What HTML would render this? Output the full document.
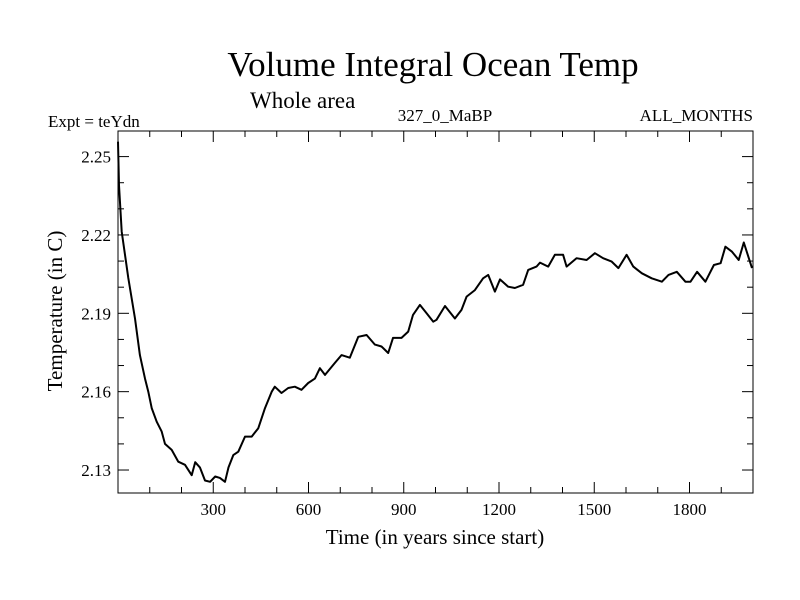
<!DOCTYPE html>
<html><head><meta charset="utf-8"><style>
body{margin:0;background:#fff}
svg{display:block;font-family:"Liberation Serif",serif}
</style></head><body>
<svg id="chart" width="800" height="600">
<text x="433" y="76" font-size="35" text-anchor="middle">Volume Integral Ocean Temp</text>
<text x="250" y="108" font-size="23">Whole area</text>
<text x="48" y="127" font-size="17">Expt = teYdn</text>
<text x="445" y="121" font-size="17" text-anchor="middle">327_0_MaBP</text>
<text x="753" y="121" font-size="17" text-anchor="end">ALL_MONTHS</text>
<text x="435" y="544" font-size="21" text-anchor="middle">Time (in years since start)</text>
<text transform="translate(62,311) rotate(-90)" font-size="21" text-anchor="middle">Temperature (in C)</text>
<g id="axes"></g>
<g id="plot"></g>
</svg>
<script>
const years=[0,3,11.5,32.5,53.5,69,85,95.5,106,122,137.5,148,169,190,211,232,243,258,274,290,306,321,337,348,363,379,400,421,442,463,484,494,515,536,557,578,599,620,636,652,683,704,730,757,783,809,830,851,866,893,914,929,951,972,993,1003,1030,1061,1082,1098,1124,1150,1166,1187,1203,1229,1250,1276,1292,1318,1329,1355,1376,1402,1413,1444,1476,1502,1528,1555,1576,1602,1623,1650,1681,1713,1734,1760,1787,1803,1824,1850,1877,1898,1913,1934,1955,1971,1997];
const temps=[2.2557,2.239,2.2213,2.2035,2.188,2.174,2.165,2.160,2.1537,2.1485,2.1447,2.140,2.1377,2.1332,2.132,2.128,2.133,2.131,2.126,2.1255,2.1275,2.127,2.1255,2.131,2.1357,2.137,2.1428,2.1428,2.146,2.1537,2.160,2.1619,2.1595,2.1614,2.1619,2.1607,2.1633,2.165,2.169,2.1664,2.171,2.174,2.173,2.181,2.1817,2.178,2.1773,2.1748,2.1806,2.1806,2.183,2.1894,2.1932,2.190,2.1868,2.1875,2.1928,2.188,2.1913,2.1964,2.1989,2.2034,2.2047,2.1983,2.203,2.2002,2.1997,2.2009,2.2066,2.2079,2.2094,2.2079,2.2124,2.2124,2.2079,2.2111,2.2104,2.213,2.2111,2.2098,2.2073,2.2124,2.2079,2.2053,2.2034,2.2021,2.2047,2.2059,2.2021,2.2021,2.2059,2.2021,2.2085,2.2092,2.2155,2.2136,2.2104,2.2171,2.2073];
const xTicks=[300,600,900,1200,1500,1800];
const yTicks=[2.13,2.16,2.19,2.22,2.25];
const L=118,R=753,T=131,B=493;
const X0=0,X1=2000,Y0=2.1212,Y1=2.2598;
const sx=v=>L+(v-X0)/(X1-X0)*(R-L);
const sy=v=>B-(v-Y0)/(Y1-Y0)*(B-T);
const NS='http://www.w3.org/2000/svg';
const axes=document.getElementById('axes'),plot=document.getElementById('plot');
function mk(tag,attrs,parent){const e=document.createElementNS(NS,tag);for(const k in attrs)e.setAttribute(k,attrs[k]);parent.appendChild(e);return e;}
const frame=mk('rect',{x:L,y:T,width:R-L,height:B-T,fill:'none',stroke:'#000','stroke-width':1},axes);


for(let v=100;v<X1;v+=100){
  const major=v%300===0,len=major?11:6,x=sx(v);
  const t1=mk('line',{x1:x,x2:x,y1:B,y2:B-len,stroke:'#000'},axes);
  
  
  const t2=mk('line',{x1:x,x2:x,y1:T,y2:T+len,stroke:'#000'},axes);
  
  
}
xTicks.forEach(v=>{
  const t=mk('text',{x:sx(v),y:B+22,'font-size':17,'text-anchor':'middle'},axes);
  t.textContent=v;
  
  
});
for(let i=0;i<=13;i++){
  const v=2.13+(i-1)*0.01;
  if(v<Y0||v>Y1)continue;
  const major=yTicks.some(t=>Math.abs(t-v)<1e-6),len=major?11:6,y=sy(v);
  const t1=mk('line',{x1:L,x2:L+len,y1:y,y2:y,stroke:'#000'},axes);
  
  
  const t2=mk('line',{x1:R,x2:R-len,y1:y,y2:y,stroke:'#000'},axes);
  
  
}
yTicks.forEach(v=>{
  const t=mk('text',{x:L-7,y:sy(v)+6,'font-size':17,'text-anchor':'end'},axes);
  t.textContent=v.toFixed(2);
  
  
});
const d=years.map((y,i)=>(i?'L':'M')+sx(y).toFixed(1)+','+sy(temps[i]).toFixed(1)).join(' ');
const line=mk('path',{d:d,fill:'none',stroke:'#000','stroke-width':2,'stroke-linejoin':'round'},plot);


</script>
</body></html>
